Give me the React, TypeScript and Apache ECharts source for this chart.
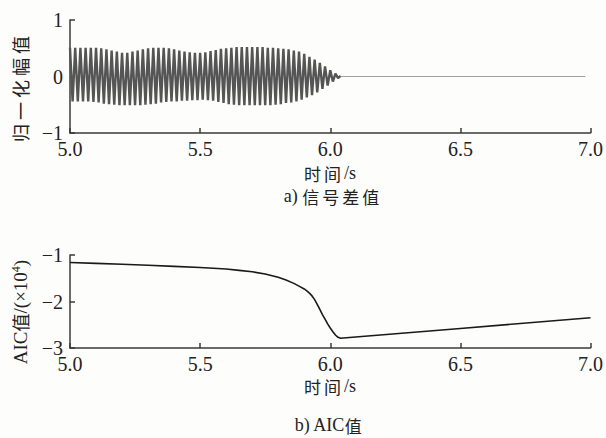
import React, { useEffect, useRef } from "react";
import * as echarts from "echarts";

// x ticks (time, s)
const X_MIN = 5.0;
const X_MAX = 7.0;
const X_STEP = 0.5;

// a) signal difference: positive peaks (every 0.02 s from 5.00) and negative peaks (offset by half a period)
const PEAK_START = 5.0;
const PEAK_STEP = 0.02;
const UPPER_PEAKS = [
  0.51, 0.51, 0.51, 0.51, 0.51, 0.51, 0.5, 0.48, 0.46, 0.44,
  0.42, 0.42, 0.44, 0.46, 0.48, 0.5, 0.51, 0.51, 0.51, 0.5,
  0.48, 0.46, 0.44, 0.43, 0.42, 0.42, 0.43, 0.45, 0.47, 0.49,
  0.5, 0.51, 0.52, 0.52, 0.52, 0.52, 0.52, 0.52, 0.51, 0.51,
  0.5, 0.49, 0.48, 0.46, 0.44, 0.4, 0.35, 0.3, 0.24, 0.18,
  0.11, 0.05, 0.01,
];
const LOWER_PEAKS = [
  -0.44, -0.44, -0.44, -0.44, -0.45, -0.46, -0.48, -0.49, -0.5, -0.51,
  -0.51, -0.51, -0.51, -0.51, -0.5, -0.49, -0.48, -0.46, -0.45, -0.44,
  -0.44, -0.43, -0.43, -0.42, -0.42, -0.41, -0.42, -0.43, -0.45, -0.47,
  -0.49, -0.5, -0.51, -0.51, -0.51, -0.51, -0.51, -0.51, -0.51, -0.5,
  -0.49, -0.47, -0.46, -0.44, -0.41, -0.37, -0.33, -0.28, -0.22, -0.16,
  -0.09, -0.03,
];
const FLAT_TIME = [6.04, 6.98];
const FLAT_VALUE = [0, 0];

// b) AIC values (×10^4)
const AIC_TIME = [
  5.0, 5.1, 5.2, 5.3, 5.4, 5.5, 5.6, 5.65, 5.7, 5.75, 5.8, 5.83, 5.86, 5.88,
  5.9, 5.91, 5.92, 5.93, 5.94, 5.95, 5.96, 5.97, 5.98, 5.99, 6.0, 6.01, 6.02,
  6.03, 6.04, 6.05, 6.5, 7.0,
];
const AIC_VALUE = [
  -1.16, -1.18, -1.2, -1.22, -1.245, -1.27, -1.3, -1.33, -1.36, -1.41, -1.48,
  -1.54, -1.61, -1.67, -1.73, -1.77, -1.82, -1.88, -1.96, -2.06, -2.17, -2.28,
  -2.38, -2.48, -2.57, -2.65, -2.72, -2.77, -2.79, -2.785, -2.58, -2.35,
];

const SERIF = "'Times New Roman', 'Liberation Serif', serif";
const CJK = "'Noto Sans CJK SC'";
const TEXT = "#222";
const AXIS = "#3a3a3a";

const minus = (v: number, d: number) => v.toFixed(d).replace("-", "\u2212");

function xAxisCfg(gridIndex: number) {
  return {
    type: "value",
    gridIndex,
    min: X_MIN,
    max: X_MAX,
    interval: X_STEP,
    axisLine: { show: true, onZero: false, lineStyle: { color: AXIS, width: 1.5 } },
    axisTick: { show: true, inside: true, length: 5, lineStyle: { color: AXIS, width: 1.5 } },
    axisLabel: {
      formatter: (v: number) => v.toFixed(1),
      fontFamily: SERIF,
      fontSize: 20,
      color: TEXT,
      margin: 6,
    },
    splitLine: { show: false },
  };
}

function yAxisCfg(gridIndex: number, min: number, max: number) {
  return {
    type: "value",
    gridIndex,
    min,
    max,
    interval: 1,
    axisLine: { show: true, onZero: false, lineStyle: { color: AXIS, width: 1.5 } },
    axisTick: { show: true, inside: true, length: 5, lineStyle: { color: AXIS, width: 1.5 } },
    axisLabel: {
      formatter: (v: number) => minus(v, 0),
      fontFamily: SERIF,
      fontSize: 20,
      color: TEXT,
      margin: 7,
    },
    splitLine: { show: false },
  };
}

export default function App() {
  const ref = useRef<HTMLDivElement>(null);

  useEffect(() => {
    if (!ref.current) return;
    const chart = echarts.init(ref.current, undefined, { renderer: "svg" });

    const signal: number[][] = [];
    UPPER_PEAKS.forEach((u, i) => {
      const t = PEAK_START + i * PEAK_STEP;
      signal.push([Number(t.toFixed(3)), u]);
      if (i < LOWER_PEAKS.length) {
        signal.push([Number((t + PEAK_STEP / 2).toFixed(3)), LOWER_PEAKS[i]]);
      }
    });
    const flat = FLAT_TIME.map((t, i) => [t, FLAT_VALUE[i]]);
    const aic = AIC_TIME.map((t, i) => [t, AIC_VALUE[i]]);

    // mixed Latin (serif) + CJK (sans) label built from rich segments
    const label = (
      parts: [string, boolean][],
      x: number,
      y: number,
      size = 18,
      rotation = 0,
      spacing = 0
    ) => {
      const lh = size;
      const rich: Record<string, any> = {
        l: { fontFamily: SERIF, fontSize: size + 1, fill: TEXT, lineHeight: lh },
        c: { fontFamily: CJK, fontSize: size, fill: TEXT, padding: [0, spacing, 0, 0], lineHeight: lh },
        sup: { fontFamily: SERIF, fontSize: 12, fill: TEXT, padding: [0, 0, 8, 0], lineHeight: lh },
      };
      let text = "";
      parts.forEach(([s, cjk]) => {
        if (s === "^4") {
          text += "{sup|4}";
          return;
        }
        if (cjk) {
          for (const ch of s) text += `{c|${ch}}`;
        } else {
          text += `{l|${s}}`;
        }
      });
      return {
        type: "text",
        x,
        y,
        rotation,
        style: { text, rich, align: "center", verticalAlign: "middle", fill: TEXT },
      };
    };

    chart.setOption({
      animation: false,
      backgroundColor: "#fdfdfb",
      textStyle: { fontFamily: SERIF },
      grid: [
        { left: 70, top: 20, width: 524, height: 113 },
        { left: 70, top: 255, width: 524, height: 93 },
      ],
      xAxis: [xAxisCfg(0), xAxisCfg(1)],
      yAxis: [yAxisCfg(0, -1, 1), yAxisCfg(1, -3, -1)],
      series: [
        {
          type: "line",
          xAxisIndex: 0,
          yAxisIndex: 0,
          data: signal,
          showSymbol: false,
          lineStyle: { color: "#555", width: 2.4 },
        },
        {
          type: "line",
          xAxisIndex: 0,
          yAxisIndex: 0,
          data: flat,
          showSymbol: false,
          lineStyle: { color: "#a0a0a0", width: 1 },
        },
        {
          type: "line",
          xAxisIndex: 1,
          yAxisIndex: 1,
          data: aic,
          showSymbol: false,
          smooth: false,
          lineStyle: { color: "#1a1a1a", width: 1.6 },
        },
      ],
      graphic: [
        label([["归一化幅值", true]], 20, 87, 18, Math.PI / 2, 4),
        label([["时间", true], ["/s", false]], 330, 173, 17, 0, 3),
        label([["a) ", false], ["信号差值", true]], 333, 196, 17, 0, 3),
        label([["AIC", false], ["值", true], ["/(×10", false], ["^4", false], [")", false]], 20, 312, 18, Math.PI / 2, 0),
        label([["时间", true], ["/s", false]], 330, 386, 17, 0, 3),
        label([["b) AIC", false], ["值", true]], 328, 425, 17, 0, 0),
      ],
    });

    return () => chart.dispose();
  }, []);

  return (
    <div
      ref={ref}
      style={{ position: "fixed", left: 0, top: 0, width: 606, height: 438 }}
    />
  );
}
